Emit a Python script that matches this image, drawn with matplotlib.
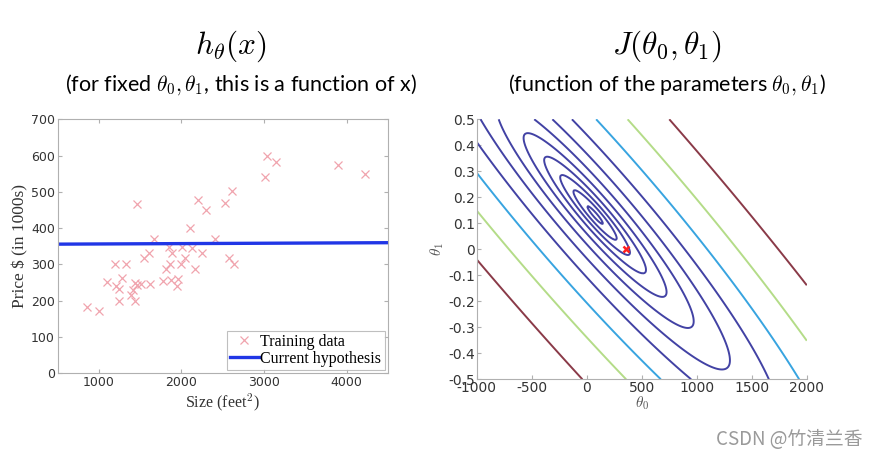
import matplotlib
matplotlib.use("Agg")
import matplotlib.pyplot as plt
import numpy as np


OUTPUT_FILE = "out.png"

# training set (size in feet^2, price in $1000s)
SIZE = [860, 1000, 1100, 1200, 1210, 1240, 1240, 1275, 1327, 1383, 1415, 1435,
        1435, 1464, 1464, 1508, 1544, 1605, 1613, 1669, 1774, 1815, 1847, 1859,
        1879, 1891, 1940, 1960, 1992, 2004, 2044, 2105, 2133, 2169, 2206, 2246,
        2302, 2403, 2532, 2573, 2617, 2641, 3008, 3036, 3145, 3899, 4218]
PRICE = [182, 172, 251, 300, 239, 232, 200, 261, 300, 214, 230, 248,
         199, 466, 243, 246, 317, 331, 245, 369, 254, 288, 349, 300,
         257, 331, 241, 260, 300, 348, 317, 400, 346, 288, 476, 332,
         450, 369, 470, 316, 501, 300, 540, 599, 581, 574, 549]

# current hypothesis (theta0, theta1)
THETA0 = 355
THETA1 = 0.001

# log spaced levels, as in the original contour call
CONTOUR_LEVELS = np.logspace(1, 6, 20)

x = np.array(SIZE, dtype=float)
y = np.array(PRICE, dtype=float)
m = len(x)

plt.rcParams['mathtext.fontset'] = 'cm'
plt.rcParams['font.family'] = ['DejaVu Sans']
plt.rcParams['axes.unicode_minus'] = False

fig = plt.figure(figsize=(8.78, 4.59), dpi=100)
GRAY = '#b0b0b0'
TICK_COL = '#333333'

# ---- left: hypothesis over data ----
ax1 = fig.add_axes([0.0657, 0.1874, 0.376, 0.5527])
ax1.plot(x, y, 'x', color='#f0a4ae', markersize=6, mew=0.9,
         label='Training data')
xs = np.array([500, 4500])
ax1.plot(xs, THETA0 + THETA1 * xs, color='#2036e6', lw=2.4,
         label='Current hypothesis')
ax1.set_xlim(500, 4500)
ax1.set_ylim(0, 700)
ax1.set_xticks([1000, 2000, 3000, 4000])
ax1.set_yticks(range(0, 701, 100))
ax1.tick_params(direction='in', top=True, right=True, length=3, color=GRAY,
                labelsize=9, labelcolor=TICK_COL, pad=2)
for s in ax1.spines.values():
    s.set_color(GRAY)
ax1.set_xlabel('Size (feet$^2$)', family='Liberation Serif', fontsize=11.5,
               color=TICK_COL, labelpad=2)
ax1.set_ylabel('Price $ (in 1000s)', family='Liberation Serif', fontsize=12.5,
               color=TICK_COL, labelpad=2)
leg = ax1.legend(loc='lower right', prop={'family': 'Liberation Serif', 'size': 11.5},
                 frameon=True, fancybox=False, borderpad=0.2, handlelength=1.8,
                 handletextpad=0.1, labelspacing=0.05, borderaxespad=0.2)
leg.get_frame().set_edgecolor(GRAY)
leg.get_frame().set_linewidth(0.8)

# ---- right: cost function contours ----
t0 = np.linspace(-1000, 2000, 300)
t1 = np.linspace(-0.5, 0.5, 300)
T0, T1 = np.meshgrid(t0, t1)
J = np.zeros_like(T0)
for xi, yi in zip(x, y):
    J += (T0 + T1 * xi - yi) ** 2
J /= 2 * m

# washed-out jet look of the slide: dark blue for most, then cyan, green, maroon
level_colors = []
for lv in CONTOUR_LEVELS:
    if lv > 0.9e6:
        level_colors.append('#8a3a48')
    elif lv > 0.5e6:
        level_colors.append('#b4dc88')
    elif lv > 0.25e6:
        level_colors.append('#38a4e0')
    else:
        level_colors.append('#4242a4')

ax2 = fig.add_axes([0.543, 0.1736, 0.3759, 0.5665])
ax2.contour(T0, T1, J, levels=CONTOUR_LEVELS, colors=level_colors,
            linewidths=1.4)
ax2.plot(THETA0, THETA1, 'x', color='#ff2020', markersize=5, mew=1.8)
ax2.set_xlim(-1000, 2000)
ax2.set_ylim(-0.5, 0.5)
ax2.set_xticks([-1000, -500, 0, 500, 1000, 1500, 2000])
ax2.set_yticks(np.round(np.arange(-0.5, 0.51, 0.1), 1))
ax2.set_yticklabels(['-0.5', '-0.4', '-0.3', '-0.2', '-0.1', '0',
                     '0.1', '0.2', '0.3', '0.4', '0.5'])
ax2.tick_params(direction='in', length=3, color=GRAY, labelsize=10,
                labelcolor=TICK_COL, pad=1)
ax2.spines['top'].set_visible(False)
ax2.spines['right'].set_visible(False)
ax2.spines['left'].set_color(GRAY)
ax2.spines['bottom'].set_color(GRAY)
ax2.set_xlabel(r'$\theta_0$', fontsize=11, color='#555555', labelpad=0)
ax2.set_ylabel(r'$\theta_1$', fontsize=11, color='#555555', labelpad=2)

# ---- titles ----
fig.text(0.263, 0.90, r'$h_\theta(x)$', fontsize=22.5, ha='center', va='center')
fig.text(0.760, 0.90, r'$J(\theta_0,\theta_1)$', fontsize=22.5, ha='center',
         va='center')
sub_font = ['Lato', 'DejaVu Sans']
fig.text(0.275, 0.815, r'(for fixed $\theta_0,\theta_1$, this is a function of x)',
         fontsize=15.5, ha='center', va='center', family=sub_font)
fig.text(0.760, 0.815, r'(function of the parameters $\theta_0,\theta_1$)',
         fontsize=15.5, ha='center', va='center', family=sub_font)

fig.text(0.982, 0.042, 'CSDN @竹清兰香', fontsize=13.5, ha='right', va='center',
         color='#9a9a9a', family=['Noto Sans CJK SC', 'DejaVu Sans'])

fig.savefig(OUTPUT_FILE, dpi=100)
